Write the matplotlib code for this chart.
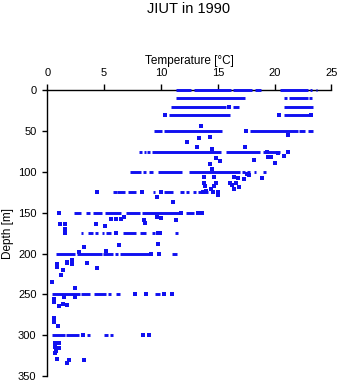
import matplotlib
matplotlib.use("Agg")
import matplotlib.pyplot as plt

plt.rcParams['font.family'] = ['Liberation Sans', 'DejaVu Sans']

# Dense horizontal bands of observations: (start temp, end temp) per depth level
band_depths = [0, 10, 20, 30, 50, 75, 100, 125, 150, 175, 200, 250, 300]
band_0 = [(11.3, 12.6), (12.9, 16.2), (16.3, 18.0), (18.3, 18.8), (20.5, 22.9), (23.15, 23.3), (23.6, 23.75)]
band_10 = [(11.35, 17.35), (20.85, 21.1), (21.25, 22.95), (23.05, 23.3)]
band_20 = [(10.85, 15.7), (15.85, 16.1), (16.3, 16.9), (20.85, 23.4)]
band_30 = [(10.7, 16.1), (20.85, 23.0)]
band_50 = [(9.4, 10.1), (10.3, 15.35), (17.84, 22.05), (22.17, 22.7), (22.95, 23.35)]
band_75 = [(8.05, 8.35), (8.5, 8.7), (8.8, 9.0), (9.25, 15.3), (15.7, 18.75), (19.0, 20.5)]
band_100 = [(7.25, 8.2), (8.4, 8.7), (8.95, 9.3), (9.74, 11.88), (12.43, 16.95), (17.1, 17.4),
            (17.55, 17.85), (18.2, 18.4), (19.0, 19.25)]
band_125 = [(5.8, 6.1), (6.15, 6.8), (7.1, 7.8), (9.3, 9.5), (10.3, 11.05), (11.7, 12.0),
            (12.2, 12.45), (12.8, 13.1), (13.3, 14.1)]
band_150 = [(2.35, 2.93), (3.4, 3.75), (4.04, 4.77), (5.1, 6.5), (6.9, 8.13), (8.37, 11.64), (12.17, 12.87)]
band_175 = [(2.93, 3.16), (3.6, 4.04), (4.2, 4.47), (4.77, 4.97), (5.2, 5.6), (6.67, 7.84),
            (8.13, 8.66), (9.2, 9.45), (11.2, 11.5)]
band_200 = [(0.76, 2.43), (2.57, 4.77), (4.9, 5.8), (5.94, 6.23), (6.38, 9.0), (11.0, 11.4)]
band_250 = [(0.45, 2.87), (3.0, 3.75), (4.1, 5.15), (5.35, 5.56), (6.0, 6.38), (9.45, 9.95)]
band_300 = [(0.41, 1.55), (1.64, 2.8), (3.5, 3.75), (4.97, 5.3), (5.5, 5.74)]
band_segments = [band_0, band_10, band_20, band_30, band_50, band_75, band_100,
                 band_125, band_150, band_175, band_200, band_250, band_300]

# Isolated observations
pt_temp = [16.0, 10.35, 20.35, 23.2, 13.55, 17.5,
           13.33, 14.3, 21.15, 12.3, 13.15, 17.37, 14.45,
           21.15, 19.3, 20.3, 19.4, 19.7, 20.8, 20.06, 14.8, 15.15, 18.16, 14.3,
           14.45, 13.77, 14.65, 16.38, 16.76, 17.28, 17.6, 17.7, 18.86, 13.75, 14.8, 16.03,
           16.6, 13.87, 14.7, 16.26, 16.85, 16.46, 14.42, 13.92, 13.68,
           4.4, 8.35, 10.0, 14.6, 15.05, 15.0, 9.65, 11.05,
           1.07, 11.75, 13.3, 13.65,
           5.59, 6.03, 6.46, 6.73, 8.5, 9.68, 10.03, 11.3, 8.57, 4.27, 5.06, 1.1, 1.55, 1.55,
           1.55, 6.05, 9.7, 9.9,
           6.32, 9.74, 3.25, 5.15, 2.8,
           9.16, 9.8,
           0.88, 0.88, 1.17, 1.4, 1.7, 1.7, 2.2, 2.2, 0.44, 2.43, 3.45, 4.33,
           7.75, 8.67, 10.3, 11.0,
           0.59, 0.59, 1.46, 2.43, 1.05, 1.35, 1.75, 0.59, 0.59, 0.9,
           3.1, 8.4, 8.95,
           0.7, 1.05, 0.7, 0.9, 1.05, 0.8, 0.7, 0.82, 1.93, 1.75, 3.25]
pt_depth = [20, 30, 30, 30, 44, 50,
            58, 57, 55, 63.7, 70, 69, 72,
            75, 76, 77, 82, 82, 81, 89.5, 83, 86, 85, 90.5,
            97, 106, 106, 106.6, 108, 109, 102, 104, 108, 113, 113, 113,
            114, 117, 117, 116, 119, 121, 121, 123, 124,
            125, 125, 125, 125, 125, 128, 131, 137,
            150, 150, 150, 150,
            158, 157.7, 157.7, 155.6, 158.5, 155.6, 157, 158.5, 163, 164, 166.3, 163.5, 163.5, 170,
            175, 175, 175, 175,
            189.6, 188.7, 191.7, 196.7, 197.7,
            200, 200,
            213, 217, 226.5, 220, 210, 212, 208, 213, 235, 242.6, 212, 218,
            250, 250, 250, 250,
            256, 259, 253, 253, 264, 262, 263, 279.4, 284, 289,
            300, 300, 300,
            309, 310, 314, 316, 316, 319, 322, 329, 330.5, 334.5, 331]

x_ticks = [0, 5, 10, 15, 20, 25]
y_ticks = [0, 50, 100, 150, 200, 250, 300, 350]

color = '#1010f0'

fig = plt.figure(figsize=(3.41, 3.84), dpi=100)
ax = fig.add_axes([47.3 / 341, 1 - 376 / 384, (331.5 - 47.3) / 341, (376 - 90.3) / 384])

for depth, segs in zip(band_depths, band_segments):
    for t0, t1 in segs:
        ax.hlines(depth, t0, t1, colors=color, linewidth=2.1, zorder=3, clip_on=False)

ax.plot(pt_temp, pt_depth, linestyle='none', marker='s', markersize=2.4,
        color=color, markeredgewidth=0, zorder=3, clip_on=False)

ax.set_xlim(0, 25)
ax.set_ylim(350, 0)
ax.set_xticks(x_ticks)
ax.set_yticks(y_ticks)
ax.xaxis.tick_top()
ax.xaxis.set_label_position('top')
for s in ['right', 'bottom']:
    ax.spines[s].set_visible(False)
for s in ['left', 'top']:
    ax.spines[s].set_linewidth(1.0)
ax.tick_params(axis='x', direction='out', length=4.5, width=1.0, pad=4, labelsize=8)
ax.tick_params(axis='y', direction='out', length=3.8, width=1.0, pad=4, labelsize=8)
ax.set_xlabel('Temperature [°C]', fontsize=8.5, labelpad=3)
ax.set_ylabel('Depth [m]', fontsize=8.5, labelpad=3)

fig.text(188.5 / 341, 1 - 9 / 384, 'JIUT in 1990', ha='center', va='center', fontsize=10.5)

fig.savefig('out.png', dpi=100)
